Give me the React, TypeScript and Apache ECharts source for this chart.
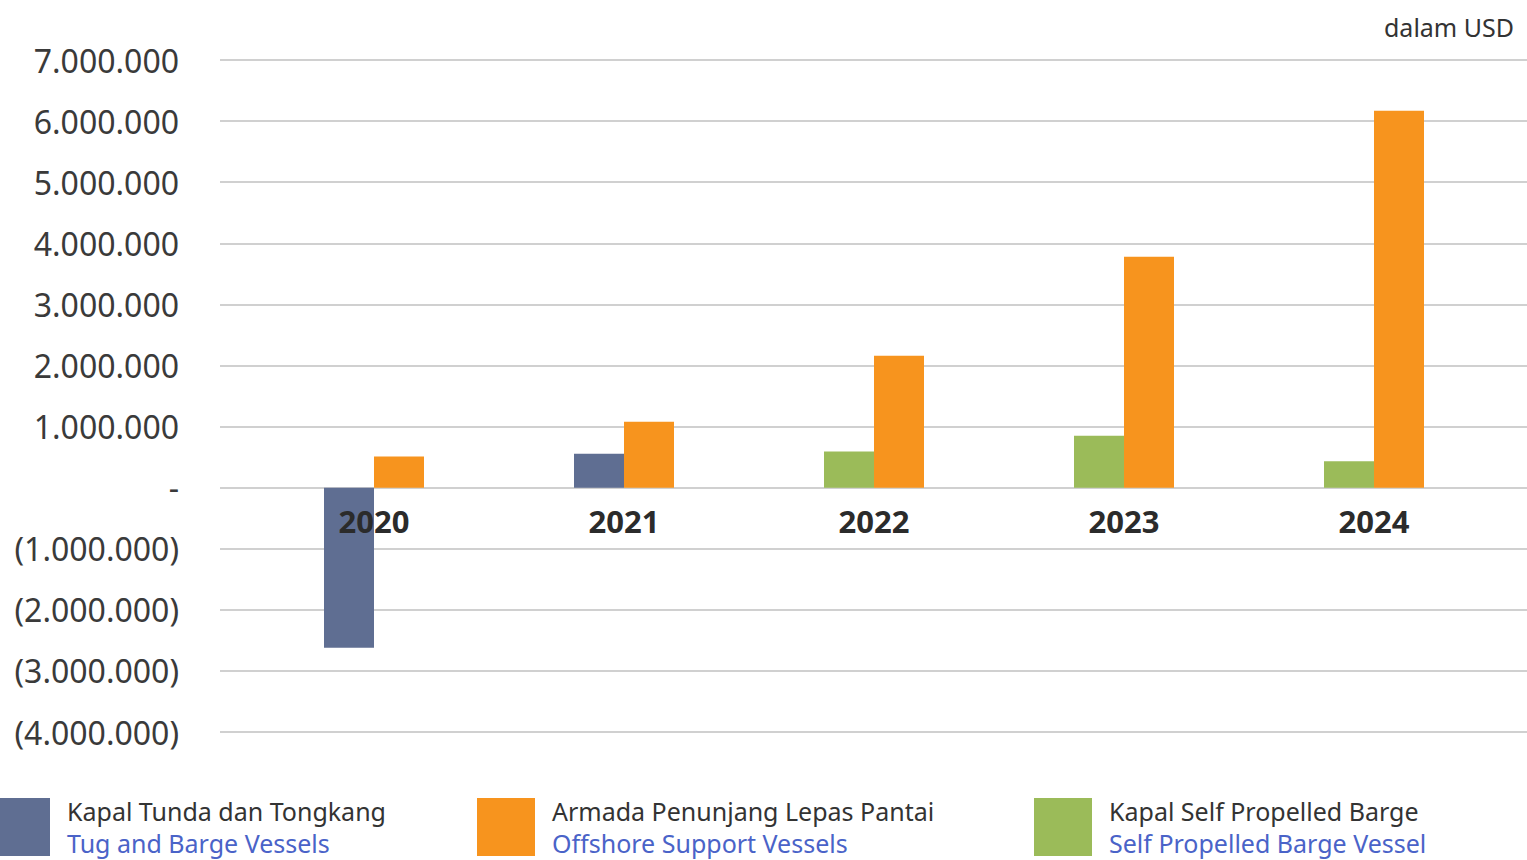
import React, { useEffect, useRef } from "react";
import * as echarts from "echarts";

const years = ["2020", "2021", "2022", "2023", "2024"];
const tugValues = [-2620000, 556000, null, null, null];
const spbValues = [null, null, 590000, 850000, 430000];
const osvValues = [510000, 1080000, 2160000, 3780000, 6170000];

const seriesNamesId = ["Kapal Tunda dan Tongkang", "Kapal Self Propelled Barge", "Armada Penunjang Lepas Pantai"];
const seriesNamesEn = ["Tug and Barge Vessels", "Self Propelled Barge Vessel", "Offshore Support Vessels"];
const colors = ["#5f6e92", "#9bbb59", "#f7941e"];
const unitLabel = "dalam USD";

const FONT = "Noto Sans";

const Y_MIN = -4000000;
const Y_MAX = 7000000;
const Y_INTERVAL = 1000000;
const GRID_TOP = 60;
const GRID_HEIGHT = 672;

function fmtNum(v: number): string {
  const s = Math.round(v).toString();
  return s.replace(/\B(?=(\d{3})+(?!\d))/g, ".");
}

function yLabel(v: number): string {
  if (v === 0) return "-";
  if (v < 0) return "(" + fmtNum(-v) + ")";
  return fmtNum(v);
}

function legendFor(idx: number, left: number) {
  return {
    data: [seriesNamesId[idx]],
    left,
    top: 798,
    padding: 0,
    itemWidth: 58,
    itemHeight: 58,
    icon: "rect",
    selectedMode: false,
    formatter: () => `{a|${seriesNamesId[idx]}}\n{b|${seriesNamesEn[idx]}}`,
    textStyle: {
      fontFamily: FONT,
      padding: [0, 0, 0, 12],
      rich: {
        a: { fontFamily: FONT, fontSize: 25, color: "#333333", lineHeight: 32 },
        b: { fontFamily: FONT, fontSize: 25, color: "#4a63c8", lineHeight: 32 },
      },
    },
  };
}

export default function App() {
  const ref = useRef<HTMLDivElement>(null);
  useEffect(() => {
    if (!ref.current) return;
    const chart = echarts.init(ref.current, undefined, { renderer: "svg" });
    // distance from the grid bottom up to the zero line, so the year labels sit under zero
    const zeroOffset = (-Y_MIN / (Y_MAX - Y_MIN)) * GRID_HEIGHT;
    chart.setOption({
      animation: false,
      backgroundColor: "#ffffff",
      title: {
        text: unitLabel,
        right: 8,
        top: 9,
        textStyle: { fontFamily: FONT, fontSize: 25, fontWeight: "normal", color: "#333333" },
      },
      legend: [legendFor(0, -8), legendFor(2, 477), legendFor(1, 1034)],
      grid: [
        { left: 220, right: 0, top: GRID_TOP, height: GRID_HEIGHT },
        { left: 249, right: 28, top: GRID_TOP, height: GRID_HEIGHT },
      ],
      xAxis: [
        { type: "category", gridIndex: 0, data: years, show: false },
        {
          type: "category",
          gridIndex: 1,
          data: years,
          z: 10,
          position: "bottom",
          offset: -zeroOffset,
          axisLine: { show: false, onZero: false },
          axisTick: { show: false },
          axisLabel: {
            margin: 18,
            fontFamily: FONT,
            fontSize: 31,
            fontWeight: "bold",
            color: "#2b2b2b",
          },
        },
      ],
      yAxis: [
        {
          type: "value",
          gridIndex: 0,
          min: Y_MIN,
          max: Y_MAX,
          interval: Y_INTERVAL,
          axisLine: { show: false },
          axisTick: { show: false },
          splitLine: { lineStyle: { color: "#d0d0d0", width: 2 } },
          axisLabel: {
            margin: 41,
            fontFamily: FONT,
            fontSize: 32,
            color: "#3a3a3a",
            formatter: (v: number) => yLabel(v),
          },
        },
        {
          type: "value",
          gridIndex: 1,
          min: Y_MIN,
          max: Y_MAX,
          interval: Y_INTERVAL,
          axisLine: { show: false },
          axisTick: { show: false },
          axisLabel: { show: false },
          splitLine: { show: false },
        },
      ],
      series: [
        {
          name: seriesNamesId[0],
          type: "bar",
          xAxisIndex: 1,
          yAxisIndex: 1,
          stack: "left",
          data: tugValues.map((v) => (v === null ? "-" : v)),
          itemStyle: { color: colors[0] },
          barWidth: 50,
          barGap: "0%",
        },
        {
          name: seriesNamesId[1],
          type: "bar",
          xAxisIndex: 1,
          yAxisIndex: 1,
          stack: "left",
          data: spbValues.map((v) => (v === null ? "-" : v)),
          itemStyle: { color: colors[1] },
          barWidth: 50,
          barGap: "0%",
        },
        {
          name: seriesNamesId[2],
          type: "bar",
          xAxisIndex: 1,
          yAxisIndex: 1,
          data: osvValues,
          itemStyle: { color: colors[2] },
          barWidth: 50,
          barGap: "0%",
        },
      ],
    });
    return () => chart.dispose();
  }, []);
  return <div ref={ref} style={{ width: 1527, height: 860, position: "absolute", left: 0, top: 0 }} />;
}
